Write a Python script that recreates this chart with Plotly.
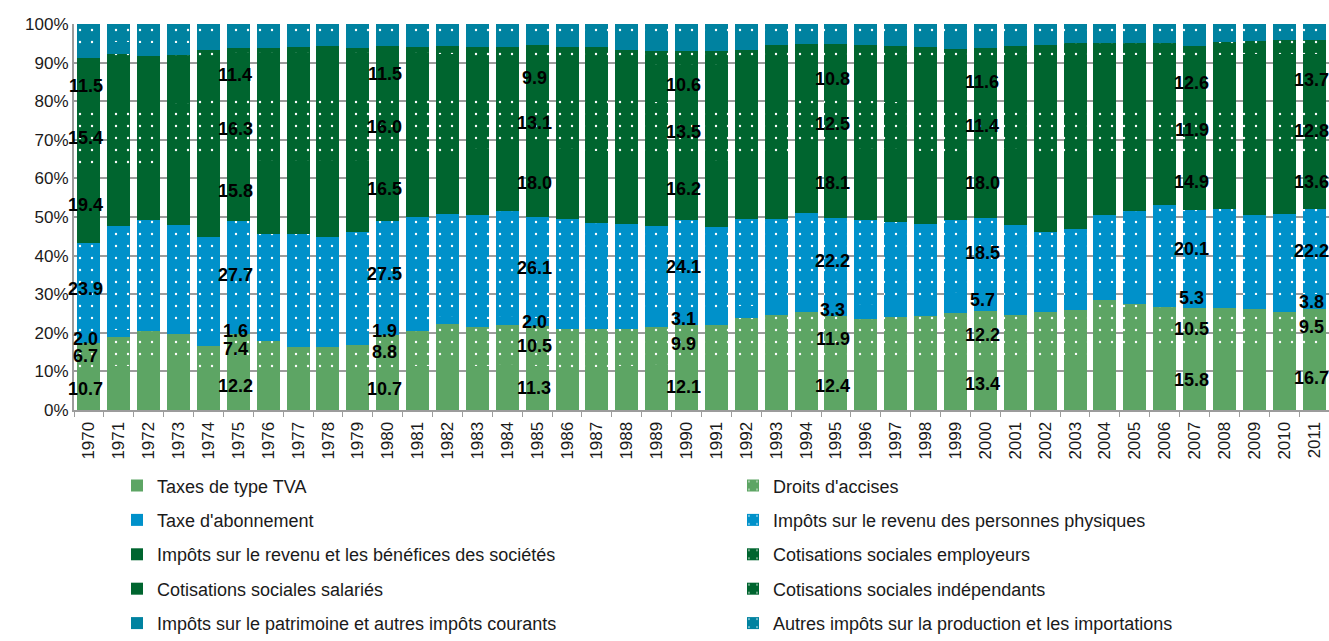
import plotly.graph_objects as go

# Structure des recettes fiscales (en % du total), 1970-2011
years = [str(y) for y in range(1970, 2012)]

tva = [10.7, 11.3, 12.3, 11.9, 10.2, 12.2, 11.0, 9.9, 9.7, 9.8,
       10.7, 11.3, 12.0, 11.5, 11.6, 11.3, 11.0, 11.2, 11.4, 11.7,
       12.1, 12.1, 12.4, 12.5, 12.9, 12.4, 12.3, 12.5, 12.7, 13.0,
       13.4, 13.3, 13.8, 14.3, 15.0, 15.0, 15.2, 15.8, 16.0, 16.3,
       16.1, 16.7]
accises = [6.7, 7.5, 8.2, 7.8, 6.5, 7.4, 6.9, 6.5, 6.6, 7.0,
           8.8, 9.2, 10.3, 10.1, 10.5, 10.5, 9.9, 9.7, 9.7, 9.8,
           9.9, 10.0, 11.4, 12.0, 12.4, 11.9, 11.4, 11.6, 11.7, 12.1,
           12.2, 11.3, 11.7, 11.7, 13.6, 12.5, 11.5, 10.5, 10.4, 9.9,
           9.3, 9.5]
abonnement = [2.0, 2.0, 1.9, 1.8, 1.6, 1.6, 1.6, 1.7, 1.8, 1.8,
              1.9, 1.9, 1.9, 2.0, 2.0, 2.0, 2.2, 2.4, 2.6, 2.8,
              3.1, 3.1, 3.1, 3.2, 3.3, 3.3, 3.6, 4.2, 4.6, 5.3,
              5.7, 5.2, 4.3, 3.8, 4.2, 4.7, 5.0, 5.3, 4.4, 3.6,
              3.9, 3.8]
ipp = [23.9, 26.8, 26.8, 26.4, 26.5, 27.7, 26.0, 27.4, 26.7, 27.6,
       27.5, 27.6, 26.6, 26.9, 27.4, 26.1, 26.5, 25.2, 24.4, 23.3,
       24.1, 22.2, 22.6, 21.9, 22.5, 22.2, 22.0, 20.5, 19.1, 18.7,
       18.5, 18.0, 16.3, 17.2, 17.8, 19.3, 21.4, 20.1, 21.4, 20.8,
       21.6, 22.2]
societes = [19.4, 15.4, 14.0, 18.1, 21.2, 15.8, 19.0, 19.0, 19.7, 18.3,
            16.5, 15.5, 15.7, 17.0, 16.5, 18.0, 18.0, 18.5, 18.7, 18.8,
            16.2, 17.0, 16.0, 16.4, 17.0, 18.1, 18.2, 18.7, 19.0, 17.6,
            18.0, 19.7, 20.4, 19.0, 16.4, 15.7, 13.9, 14.9, 14.4, 14.9,
            14.1, 13.6]
cot_employeurs = [15.4, 15.0, 15.0, 13.6, 14.8, 16.3, 16.3, 16.2, 16.2, 16.0,
                  16.0, 15.5, 14.5, 13.8, 13.3, 13.1, 13.2, 13.5, 13.4, 13.4,
                  13.5, 14.4, 13.4, 12.8, 12.6, 12.5, 12.5, 12.2, 12.0, 11.8,
                  11.4, 11.8, 12.3, 12.6, 12.3, 12.2, 12.0, 11.9, 12.3, 13.0,
                  13.0, 12.8]
cot_salaries = [11.5, 12.6, 11.8, 10.7, 10.9, 11.4, 11.6, 11.8, 12.3, 11.9,
                11.5, 11.5, 11.3, 10.5, 10.3, 9.9, 9.8, 10.0, 9.6, 9.7,
                10.6, 10.6, 10.8, 12.0, 10.5, 10.8, 10.9, 11.2, 11.5, 11.6,
                11.6, 11.9, 12.6, 13.2, 12.6, 12.5, 12.9, 12.6, 13.1, 13.6,
                14.3, 13.7]
cot_independants = [1.6, 1.6, 1.6, 1.6, 1.6, 1.5, 1.5, 1.5, 1.4, 1.4,
                    1.3, 1.5, 2.0, 2.3, 2.5, 3.6, 3.5, 3.5, 3.4, 3.5,
                    3.5, 3.5, 3.6, 3.7, 3.6, 3.6, 3.6, 3.5, 3.4, 3.4,
                    3.0, 3.1, 3.2, 3.2, 3.2, 3.2, 3.2, 3.2, 3.4, 3.5,
                    3.5, 3.5]
patrimoine = [3.4, 3.2, 3.4, 3.2, 2.7, 2.5, 2.5, 2.4, 2.3, 2.5,
              2.3, 2.4, 2.3, 2.4, 2.4, 2.2, 2.4, 2.4, 2.7, 2.8,
              2.8, 2.9, 2.8, 2.3, 2.2, 2.1, 2.2, 2.3, 2.4, 2.6,
              2.5, 2.3, 2.2, 2.0, 2.0, 2.0, 2.0, 2.3, 1.9, 1.8,
              1.7, 1.7]
autres_production = [5.4, 4.6, 5.0, 4.9, 4.0, 3.6, 3.6, 3.6, 3.3, 3.7,
                     3.5, 3.6, 3.4, 3.5, 3.5, 3.3, 3.5, 3.6, 4.1, 4.2,
                     4.2, 4.2, 3.9, 3.2, 3.0, 3.1, 3.3, 3.3, 3.6, 3.9,
                     3.7, 3.4, 3.2, 3.0, 2.9, 2.9, 2.9, 3.4, 2.7, 2.6,
                     2.5, 2.5]

# Années pour lesquelles les valeurs sont affichées sur les barres
label_years = ["1970", "1975", "1980", "1985", "1990", "1995", "2000", "2007", "2011"]

LIGHT_GREEN = "#5DA564"
BLUE = "#0091CA"
DARK_GREEN = "#00652F"
TEAL = "#0082A0"

# (libellé, valeurs, couleur, pointillé, étiquettes, légende)
series = [
    ("Taxes de type TVA", tva, LIGHT_GREEN, False, True, "legend"),
    ("Droits d'accises", accises, LIGHT_GREEN, True, True, "legend2"),
    ("Taxe d'abonnement", abonnement, BLUE, False, True, "legend"),
    ("Impôts sur le revenu des personnes physiques", ipp, BLUE, True, True, "legend2"),
    ("Impôts sur le revenu et les bénéfices des sociétés", societes, DARK_GREEN, False, True, "legend"),
    ("Cotisations sociales employeurs", cot_employeurs, DARK_GREEN, True, True, "legend2"),
    ("Cotisations sociales salariés", cot_salaries, DARK_GREEN, False, True, "legend"),
    ("Cotisations sociales indépendants", cot_independants, DARK_GREEN, True, False, "legend2"),
    ("Impôts sur le patrimoine et autres impôts courants", patrimoine, TEAL, False, False, "legend"),
    ("Autres impôts sur la production et les importations", autres_production, TEAL, True, False, "legend2"),
]

FONT = "Liberation Sans, Arial, sans-serif"

fig = go.Figure()
for name, values, color, dotted, _, legend in series:
    pattern = dict(shape=".", size=12, solidity=0.03, fgcolor="white",
                   bgcolor=color, fgopacity=1) if dotted else dict(shape="")
    fig.add_trace(go.Bar(
        x=years, y=values, name=name,
        marker=dict(color=color, line=dict(width=0), pattern=pattern),
        legend=legend, legendgroup=name,
        hovertemplate="%{x}: %{y:.1f}%<extra>" + name + "</extra>",
    ))

# Valeurs affichées au milieu de chaque segment, par-dessus toutes les barres
# (x donné par la position de la catégorie sur l'axe)
base = [0.0] * len(years)
for name, values, color, dotted, labelled, legend in series:
    for i, (y, v) in enumerate(zip(years, values)):
        if labelled and y in label_years:
            fig.add_annotation(
                x=i, y=base[i] + v / 2, text=f"{v:.1f}", showarrow=False,
                xref="x", yref="y", xanchor="center", yanchor="middle", xshift=-3,
                font=dict(family=FONT, size=18, color="black", weight="bold"),
            )
        base[i] += v

# Légende sur deux colonnes, placée par rapport à la page entière
legend_style = dict(
    orientation="v", traceorder="grouped", tracegroupgap=8,
    font=dict(family=FONT, size=18, color="#1a1a1a"),
    bgcolor="rgba(0,0,0,0)", borderwidth=0,
    xref="container", yref="container",
    xanchor="left", yanchor="top", y=0.271,
)

fig.update_layout(
    width=1329, height=641,
    margin=dict(l=74, r=0, t=24, b=231, autoexpand=False),
    barmode="stack", bargap=0.23,
    plot_bgcolor="white", paper_bgcolor="white",
    font=dict(family=FONT, size=17, color="#1a1a1a"),
    showlegend=True,
    legend=dict(legend_style, x=117 / 1329),
    legend2=dict(legend_style, x=733 / 1329),
)

fig.update_yaxes(
    range=[0, 100], dtick=10, ticksuffix="%",
    showgrid=True, gridcolor="#9C9C9C", gridwidth=2,
    showline=True, linecolor="#9C9C9C", linewidth=2,
    ticks="", tickfont=dict(family=FONT, size=17, color="#1a1a1a"),
    zeroline=False, fixedrange=True,
)
fig.update_xaxes(
    type="category", range=[-0.5, len(years) - 0.5], tickangle=-90,
    showline=True, linecolor="#9C9C9C", linewidth=2,
    ticks="outside", tickson="boundaries", ticklen=5, tickcolor="#9C9C9C", tickwidth=1,
    ticklabelstandoff=3,
    tickfont=dict(family=FONT, size=17, color="#1a1a1a"),
    showgrid=False, fixedrange=True,
)

fig.write_html("out.html")
